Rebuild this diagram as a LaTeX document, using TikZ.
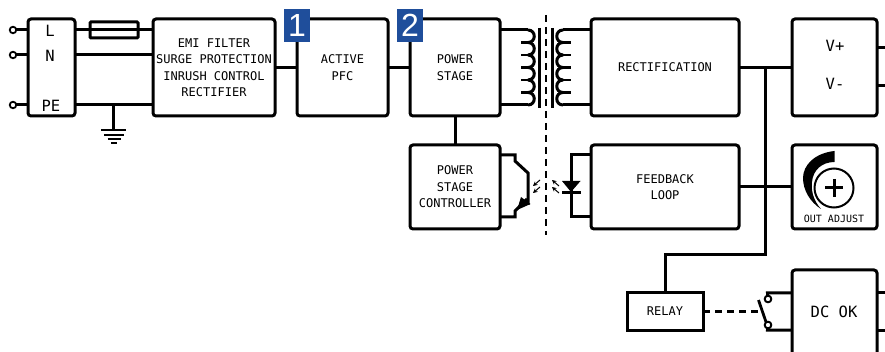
\documentclass[tikz,border=0pt]{standalone}
\usepackage{fontspec}
\setmainfont{DejaVu Sans Mono}
\newfontfamily\badgefont{Liberation Sans}
\usetikzlibrary{arrows.meta}
\definecolor{badgeblue}{HTML}{1F4E9B}
\tikzset{
  x=1pt,y=-1pt,
  wire/.style={line width=3pt,line cap=butt},
  blockbox/.style={draw,line width=3pt,rounded corners=3pt,inner sep=0pt,outer sep=0pt,align=center,fill=white,
    font=\fontsize{12}{16.5}\selectfont},
  bigtext/.style={inner sep=0pt,font=\fontsize{15.5}{18}\selectfont},
  terminal/.style={circle,draw,fill=white,line width=1.8pt,minimum size=6.5pt,inner sep=0pt,outer sep=0pt},
  badge/.style={fill=badgeblue,text=white,inner sep=0pt,outer sep=0pt,minimum width=26pt,minimum height=33pt,
    font=\badgefont\fontsize{32}{32}\selectfont},
  lightray/.style={line width=1pt,-{Stealth[length=4.5pt,width=4.5pt]}},
  groundbar/.style={line width=1.8pt},
}
\begin{document}
\begin{tikzpicture}
\useasboundingbox (0,0) rectangle (885,352);
\clip (0,0) rectangle (885,352);
% blocks
\node[blockbox,minimum width=47pt,minimum height=97pt] (lbox) at (51.5,67.5) {};
\node[blockbox,minimum width=122pt,minimum height=97pt] (emi) at (214,67.5) {EMI FILTER\\SURGE PROTECTION\\INRUSH CONTROL\\RECTIFIER};
\node[blockbox,minimum width=91pt,minimum height=97pt] (pfc) at (342.5,67.5) {ACTIVE\\PFC};
\node[blockbox,minimum width=90pt,minimum height=97pt] (power) at (455,67.5) {POWER\\STAGE};
\node[blockbox,minimum width=148pt,minimum height=97pt] (rect) at (665,67.5) {RECTIFICATION};
\node[blockbox,minimum width=85pt,minimum height=97pt] (vbox) at (834.5,67.5) {};
\node[blockbox,minimum width=90pt,minimum height=84pt] (ctrl) at (455,187) {POWER\\STAGE\\CONTROLLER};
\node[blockbox,minimum width=148pt,minimum height=84pt] (fb) at (665,187) {FEEDBACK\\LOOP};
\node[blockbox,minimum width=85pt,minimum height=84pt] (adj) at (834.5,187) {};
\node[blockbox,sharp corners,minimum width=76pt,minimum height=37pt] (relay) at (665,311.5) {RELAY};
\node[blockbox,minimum width=85pt,minimum height=110pt] (dcok) at (834.5,325) {};
% block labels
\node[bigtext] (tl) at (50,31) {L};
\node[bigtext] (tn) at (50,56) {N};
\node[bigtext] (tpe) at (51,106) {PE};
\node[bigtext] (tvp) at (835,46) {V+};
\node[bigtext] (tvm) at (835,84) {V-};
\node[bigtext] (tdc) at (834,312) {DC OK};
\node[inner sep=0pt,font=\fontsize{10}{12}\selectfont] (tadj) at (834,219) {OUT ADJUST};
% mains terminals
\node[terminal] (t1) at (13,30) {};
\node[terminal] (t2) at (13,55) {};
\node[terminal] (t3) at (13,105) {};
\draw[wire] (t1) -- (lbox.west |- t1);
\draw[wire] (t2) -- (lbox.west |- t2);
\draw[wire] (t3) -- (lbox.west |- t3);
% input wires and fuse
\draw[wire] (lbox.east |- t1) -- (emi.west |- t1);
\draw[wire] (lbox.east |- t2) -- (emi.west |- t2);
\draw[wire] (lbox.east |- t3) -- (emi.west |- t3);
\node[draw,line width=3pt,rounded corners=1pt,minimum width=48pt,minimum height=16pt,inner sep=0pt,outer sep=0pt] (fuse) at (114,30) {};
% ground
\coordinate (gt) at (113.5,105);
\coordinate (gb) at (113.5,130);
\draw[wire] (gt) -- (gb);
\draw[groundbar] (101,130) -- (126,130) (104,135) -- (124,135) (107.5,139) -- (120.5,139) (111,143) -- (117,143);
% main chain
\draw[wire] (emi.east) -- (pfc.west);
\draw[wire] (pfc.east) -- (power.west);
\draw[wire] (power.south) -- (ctrl.north);
% transformer
\draw[wire] (power.east |- 0,30) -- (528,30);
\draw[wire] (power.east |- 0,105) -- (528,105);
\draw[wire] (rect.west |- 0,30) -- (563,30);
\draw[wire] (rect.west |- 0,105) -- (563,105);
\foreach \yy in {30,42.5,55,67.5,80,92.5}{
  \draw[line width=3pt] (528,\yy) .. controls (536.3,\yy) and (536.3,\yy+12.5) .. (528,\yy+12.5);
  \draw[line width=3pt] (563,\yy) .. controls (554.7,\yy) and (554.7,\yy+12.5) .. (563,\yy+12.5);
}
\foreach \yy in {42.5,55,67.5,80,92.5}{
  \draw[line width=2.5pt] (521,\yy) -- (528,\yy);
  \draw[line width=2.5pt] (563,\yy) -- (571,\yy);
}
\draw[line width=3pt] (539.5,28) -- (539.5,108);
\draw[line width=3pt] (552,28) -- (552,108);
\draw[line width=2pt,dash pattern=on 7pt off 5pt] (546,15) -- (546,235);
% optocoupler transistor
\draw[wire,line join=miter] (ctrl.east |- 0,155) -- (515,155) -- (515,161) -- (528,173) -- (528,205);
\draw[wire,line join=miter] (ctrl.east |- 0,217) -- (515,217) -- (515,211) -- (527,199);
\fill (521,197) -- (530.5,204) -- (517,210) -- cycle;
\draw[lightray] (540,180) -- (533,186);
\draw[lightray] (540,187) -- (533,193);
\draw[lightray] (559,186) -- (552,180);
\draw[lightray] (559,193) -- (552,187);
% optocoupler diode
\draw[wire,line join=miter] (fb.west |- 0,155) -- (571,155) -- (571,217) -- (fb.west |- 0,217);
\fill (562,181) -- (580.5,181) -- (571,192) -- cycle;
\draw[line width=3pt] (562,192.5) -- (581,192.5);
% secondary side
\coordinate (busTop) at (765,67);
\coordinate (busCorner) at (765,255);
\coordinate (relayCorner) at (665,255);
\draw[wire] (rect.east) -- (vbox.west);
\draw[wire] (fb.east) -- (adj.west);
\draw[wire,line join=miter] (busTop) -- (busCorner) -- (relayCorner) -- (relay.north);
% outputs
\draw[wire] (878,48) -- (885,48);
\draw[wire] (878,86) -- (885,86);
\draw[wire] (878,293) -- (885,293);
\draw[wire] (878,330) -- (885,330);
% relay contact
\node[terminal] (c1) at (768,299) {};
\node[terminal] (c2) at (768,325) {};
\draw[wire] (c1) -- (767.5,293) -- (dcok.west |- 0,293);
\draw[wire] (c2) -- (767.5,330) -- (dcok.west |- 0,330);
\node[terminal] at (c1) {};
\node[terminal] at (c2) {};
\coordinate (lever) at (758.5,300);
\draw[line width=2.8pt] (lever) -- (766,322);
\draw[wire,dash pattern=on 7pt off 5pt] (relay.east) -- (lever |- relay.east);
% adjust knob
\fill (834.5,151) .. controls (815,153) and (803,165) .. (803,178)
  .. controls (803,190) and (810,202) .. (821,209)
  .. controls (813,200) and (811,190) .. (812,182)
  .. controls (813,170) and (822,162) .. (834.5,162) -- cycle;
\node[circle,draw,fill=white,line width=2pt,minimum size=39pt,inner sep=0pt,outer sep=0pt] (knob) at (834,188) {};
\draw[line width=3pt] (825,188) -- (843,188) (834,179) -- (834,197);
% badges
\node[badge] (b1) at (297,25.5) {1};
\node[badge] (b2) at (410,25.5) {2};
\end{tikzpicture}
\end{document}
